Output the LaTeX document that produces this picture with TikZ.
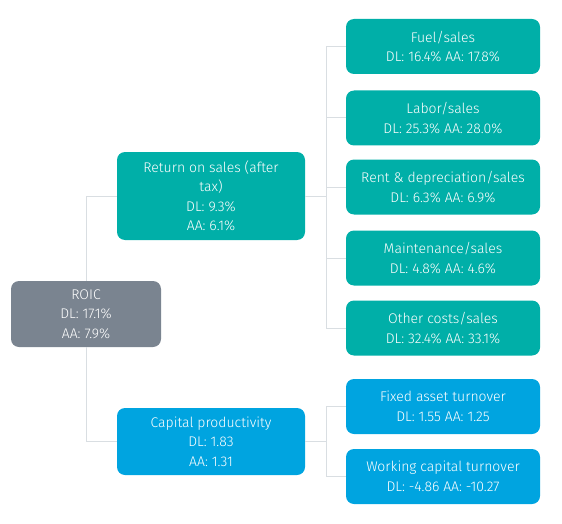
\documentclass[tikz,border=0pt]{standalone}
\usepackage{fontspec}
\setmainfont{Fira Sans}[UprightFont={* Light}]
\definecolor{salescol}{HTML}{00AFA8}
\definecolor{capcol}{HTML}{00A4E0}
\definecolor{roiccol}{HTML}{7A8490}
\definecolor{linkcol}{HTML}{D9DEE2}
\tikzset{
  kbox/.style={rounded corners=8pt, text=white, align=center, inner sep=0,
               font=\fontsize{14}{19.5}\selectfont},
  leaf/.style={kbox, minimum width=194pt, minimum height=55pt},
  link/.style={linkcol, line width=1pt},
}

\begin{document}
\begin{tikzpicture}[x=1pt, y=-1pt]
    \useasboundingbox (0,0) rectangle (562,524);

    % Root and its two drivers
    \node[kbox, fill=roiccol, minimum width=150pt, minimum height=66pt] (roic) at (86,314)
      {ROIC\\DL: 17.1\%\\AA: 7.9\%};
    \node[kbox, fill=salescol, minimum width=188pt, minimum height=88pt] (ros) at (211,196)
      {Return on sales (after\\tax)\\DL: 9.3\%\\AA: 6.1\%};
    \node[kbox, fill=capcol, minimum width=188pt, minimum height=67pt] (cap) at (211,441.5)
      {Capital productivity\\DL: 1.83\\AA: 1.31};

    \draw[link] (roic.north) |- (ros.west);
    \draw[link] (roic.south) |- (cap.west);

    % Bus points for the leaves
    \coordinate (rosbus) at (326,196);
    \coordinate (capbus) at (326,441.5);
    \draw[link] (ros.east) -- (rosbus);
    \draw[link] (cap.east) -- (capbus);

    % Cost ratios
    \foreach \nm/\y/\ttl/\val in {
      fuel/46.5/{Fuel/sales}/{DL: 16.4\% AA: 17.8\%},
      labor/118/{Labor/sales}/{DL: 25.3\% AA: 28.0\%},
      rent/187/{Rent \& depreciation/sales}/{DL: 6.3\% AA: 6.9\%},
      maint/258/{Maintenance/sales}/{DL: 4.8\% AA: 4.6\%},
      other/328/{Other costs/sales}/{DL: 32.4\% AA: 33.1\%}} {
      \node[leaf, fill=salescol] (\nm) at (443,\y) {\ttl\\\val};
      \draw[link] (rosbus) |- (\nm.west);
    }

    % Turnover ratios
    \foreach \nm/\y/\ttl/\val in {
      fixed/406.5/{Fixed asset turnover}/{DL: 1.55 AA: 1.25},
      work/476.5/{Working capital turnover}/{DL: -4.86 AA: -10.27}} {
      \node[leaf, fill=capcol] (\nm) at (443,\y) {\ttl\\\val};
      \draw[link] (capbus) |- (\nm.west);
    }
\end{tikzpicture}
\end{document}
